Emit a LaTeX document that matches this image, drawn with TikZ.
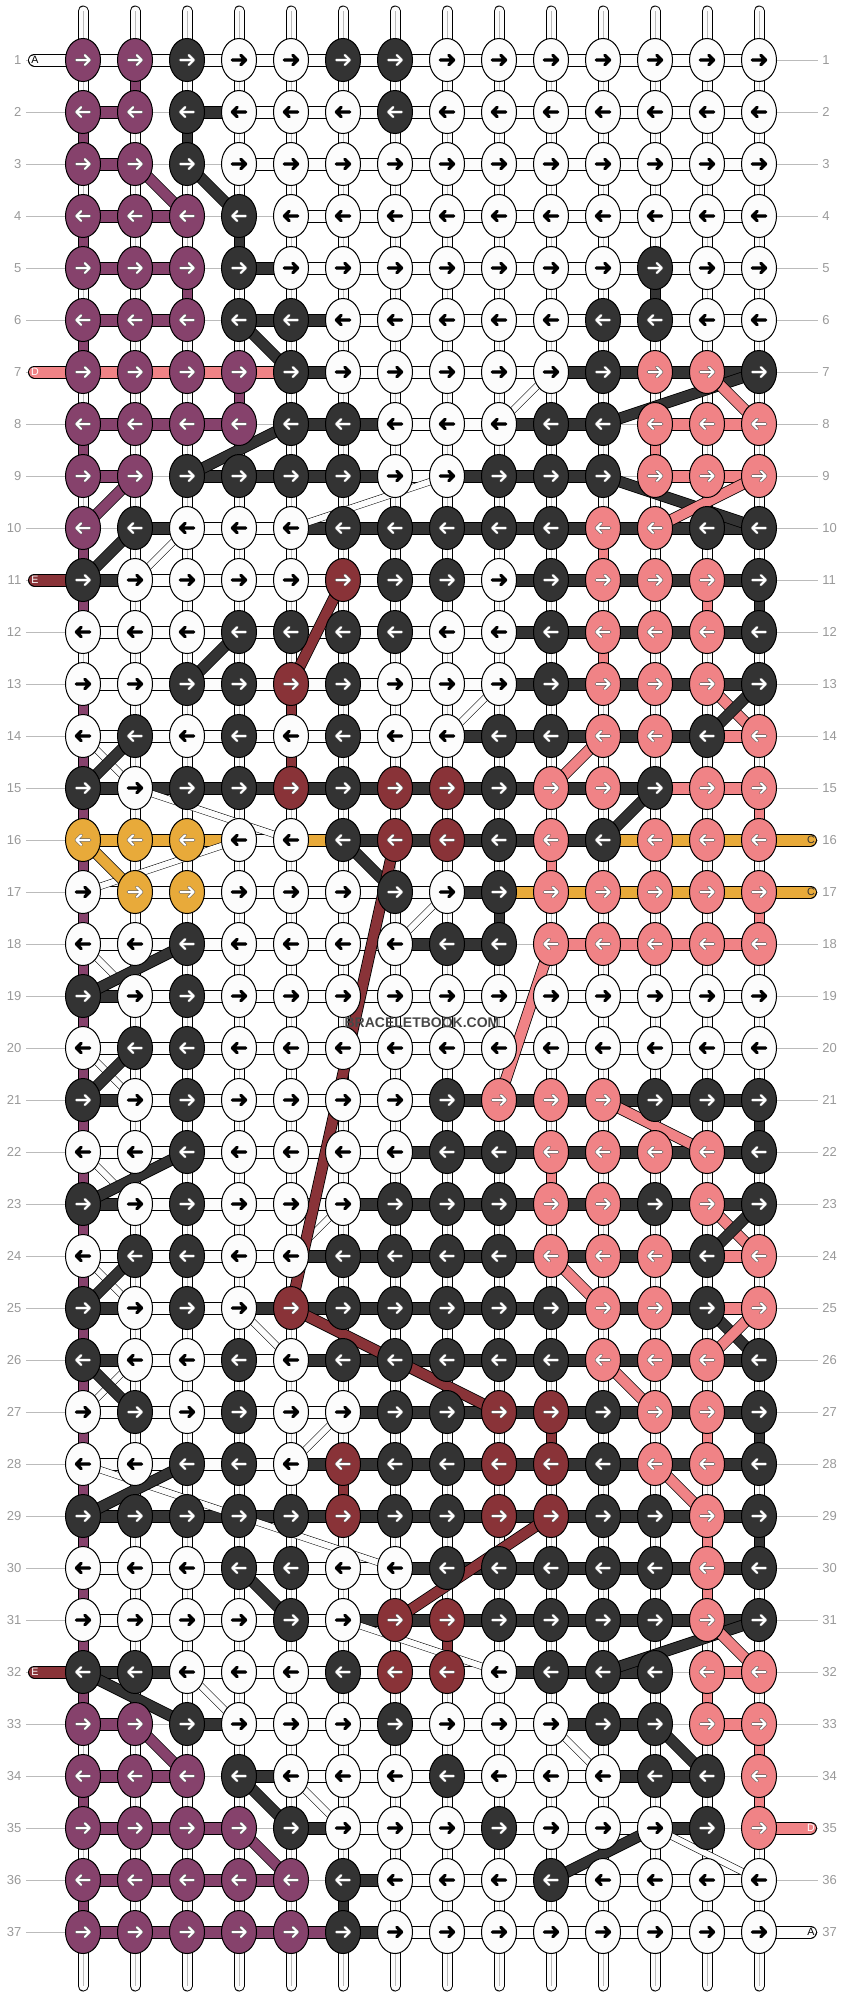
\documentclass[tikz,border=0pt]{standalone}
\usepackage{fontspec}
\setmainfont{Liberation Sans}
\usetikzlibrary{shapes.geometric,backgrounds}

\definecolor{colp}{HTML}{86426C}
\definecolor{colk}{HTML}{333333}
\definecolor{colw}{HTML}{FCFCFC}
\definecolor{colr}{HTML}{F08386}
\definecolor{cold}{HTML}{893338}
\definecolor{colo}{HTML}{E8AA3A}
\definecolor{numgray}{HTML}{999999}
\definecolor{linegray}{HTML}{BBBBBB}
\colorlet{acw}{black}\colorlet{olw}{black}
\colorlet{acp}{white}\colorlet{olp}{black!60}
\colorlet{ack}{white}\colorlet{olk}{black!60}
\colorlet{acr}{white}\colorlet{olr}{black!65}
\colorlet{acd}{white}\colorlet{old}{black!60}
\colorlet{aco}{white}\colorlet{olo}{black!60}

\tikzset{
	knot/.style={
			ellipse, draw=black, line width=0.75pt, fill=col#1,
			minimum width=26.25pt, minimum height=32.25pt, inner sep=0pt,
			/utils/exec={\edef\kcode{#1}},
		},
	arrowdir/.style={
			path picture={
					\coordinate (pc) at (path picture bounding box.center);
					\foreach \lw/\cl in {2.4pt/ol\kcode, 1.5pt/ac\kcode} {
							\ifnum#1>0
								\draw[\cl, line width=\lw, line cap=round, line join=round]
								([xshift=-5pt]pc) -- ([xshift=5pt]pc)
								([shift={(1.4pt,3.6pt)}]pc) -- ([xshift=5pt]pc) -- ([shift={(1.4pt,-3.6pt)}]pc);
							\else
								\draw[\cl, line width=\lw, line cap=round, line join=round]
								([xshift=5pt]pc) -- ([xshift=-5pt]pc)
								([shift={(-1.4pt,3.6pt)}]pc) -- ([xshift=-5pt]pc) -- ([shift={(-1.4pt,-3.6pt)}]pc);
							\fi
						}
				},
		},
	guide/.style={linegray, line width=0.75pt},
	vbar/.style={draw=black, line width=0.75pt, double=colw, double distance=6.75pt},
	vmid/.style={linegray, line width=0.5pt},
	cbar/.style={draw=black, line width=0.75pt, double=col#1, double distance=6.75pt},
	hbar/.style={draw=black, line width=0.75pt, double=col#1, double distance=8.25pt},
	lbar/.style={hbar=#1, line cap=round},
	dstr/.style={draw=black, line width=0.6pt, double=col#1, double distance=7.5pt},
	wdiag/.style={draw=black, line width=0.4pt, double=colw, double distance=4.5pt},
	rownum/.style={text=numgray, font=\fontsize{9.75}{10}\selectfont, inner sep=0pt},
	labtxt/.style={font=\fontsize{8}{9}\selectfont, inner sep=0pt},
}

\begin{document}
\begin{tikzpicture}[x=0.75pt, y=-0.75pt]
	\useasboundingbox (0,0) rectangle (844,1996);
	% knots
	\foreach \r/\knots in {
			1/{p,p,k,w,w,k,k,w,w,w,w,w,w,w},
			2/{p,p,k,w,w,w,k,w,w,w,w,w,w,w},
			3/{p,p,k,w,w,w,w,w,w,w,w,w,w,w},
			4/{p,p,p,k,w,w,w,w,w,w,w,w,w,w},
			5/{p,p,p,k,w,w,w,w,w,w,w,k,w,w},
			6/{p,p,p,k,k,w,w,w,w,w,k,k,w,w},
			7/{p,p,p,p,k,w,w,w,w,w,k,r,r,k},
			8/{p,p,p,p,k,k,w,w,w,k,k,r,r,r},
			9/{p,p,k,k,k,k,w,w,k,k,k,r,r,r},
			10/{p,k,w,w,w,k,k,k,k,k,r,r,k,k},
			11/{k,w,w,w,w,d,k,k,w,k,r,r,r,k},
			12/{w,w,w,k,k,k,k,w,w,k,r,r,r,k},
			13/{w,w,k,k,d,k,w,w,w,k,r,r,r,k},
			14/{w,k,w,k,w,k,w,w,k,k,r,r,k,r},
			15/{k,w,k,k,d,k,d,d,k,r,r,k,r,r},
			16/{o,o,o,w,w,k,d,d,k,r,k,r,r,r},
			17/{w,o,o,w,w,w,k,w,k,r,r,r,r,r},
			18/{w,w,k,w,w,w,w,k,k,r,r,r,r,r},
			19/{k,w,k,w,w,w,w,w,w,w,w,w,w,w},
			20/{w,k,k,w,w,w,w,w,w,w,w,w,w,w},
			21/{k,w,k,w,w,w,w,k,r,r,r,k,k,k},
			22/{w,w,k,w,w,w,w,k,k,r,r,r,r,k},
			23/{k,w,k,w,w,w,k,k,k,r,r,k,r,k},
			24/{w,k,k,w,w,k,k,k,k,r,r,r,k,r},
			25/{k,w,k,w,d,k,k,k,k,k,r,r,k,r},
			26/{k,w,w,k,w,k,k,k,k,k,r,r,r,k},
			27/{w,k,w,k,w,w,k,k,d,d,k,r,r,k},
			28/{w,w,k,k,w,d,k,k,d,d,k,r,r,k},
			29/{k,k,k,k,k,d,k,k,d,d,k,k,r,k},
			30/{w,w,w,k,k,w,w,k,k,k,k,k,r,k},
			31/{w,w,w,w,k,w,d,d,k,k,k,k,r,k},
			32/{k,k,w,w,w,k,d,d,w,k,k,k,r,r},
			33/{p,p,k,w,w,w,k,w,w,w,k,k,r,r},
			34/{p,p,p,k,w,w,w,k,w,w,w,k,k,r},
			35/{p,p,p,p,k,w,w,w,k,w,w,w,k,r},
			36/{p,p,p,p,p,k,w,w,w,k,w,w,w,w},
			37/{p,p,p,p,p,k,w,w,w,w,w,w,w,w}} {
			\pgfmathtruncatemacro\sg{1-2*mod(\r+1,2)}
			\pgfmathsetmacro\yy{60+52*(\r-1)}
			\coordinate (gl-\r) at (26,\yy);
			\coordinate (gr-\r) at (818,\yy);
			\node[rownum, anchor=east] (nl-\r) at (21.5,\yy) {\r};
			\node[rownum, anchor=west] (nr-\r) at (822,\yy) {\r};
			\foreach \kn [count=\i] in \knots
			\node[knot=\kn, arrowdir=\sg] (k-\r-\i) at ({83+52*(\i-1)},\yy) {};
		}
	\foreach \c in {1,...,14} {
			\coordinate (top-\c) at ({83+52*(\c-1)},11);
			\coordinate (bot-\c) at ({83+52*(\c-1)},1986);
		}

	\begin{scope}[on background layer]
		\foreach \r in {1,...,37} \draw[guide] (gl-\r) -- (gr-\r);
		% vertical strings
		\foreach \c in {1,...,14} {
				\draw[vbar, line cap=round] (top-\c) -- (k-1-\c.center);
				\draw[vbar, line cap=round] (k-37-\c.center) -- (bot-\c);
				\draw[vmid] (top-\c) -- (k-1-\c.center) (k-37-\c.center) -- (bot-\c);
				\foreach \r in {1,...,36} {
						\pgfmathtruncatemacro\rr{\r+1}
						\draw[vbar] (k-\r-\c.center) -- (k-\rr-\c.center);
						\draw[vmid] (k-\r-\c.center) -- (k-\rr-\c.center);
					}
			}
		\foreach \r in {13,...,32} \draw[cbar=p] (k-\r-1.center) -- (k-\the\numexpr\r+1\relax-1.center);
		\foreach \c/\r/\cl in {1/2/p, 1/4/p, 1/6/p, 1/8/p, 1/10/p, 1/11/p, 1/34/p, 1/36/p,
				2/1/p, 3/2/k, 3/5/p, 4/4/k, 4/7/p, 5/13/d, 5/14/d, 6/28/d, 6/36/k,
				8/31/d, 9/17/k, 10/16/r, 10/22/r, 10/27/d, 11/10/r, 11/12/r, 12/5/k, 12/8/r,
				13/11/r, 13/27/r, 13/29/r, 13/30/r, 13/32/r,
				14/11/k, 14/15/r, 14/17/r, 14/21/k, 14/27/k, 14/29/k, 14/33/r, 14/34/r} {
				\pgfmathtruncatemacro\rr{\r+1}
				\draw[cbar=\cl] (k-\r-\c.center) -- (k-\rr-\c.center);
			}
		% row strings
		\foreach \r/\bars in {
				1/{w,w,w,w,w,w,w,w,w,w,w,w,w},
				2/{p,n,k,w,w,w,w,w,w,w,w,w,w},
				3/{p,n,n,w,w,w,w,w,w,w,w,w,w},
				4/{p,p,n,n,w,w,w,w,w,w,w,w,w},
				5/{p,p,n,k,w,w,w,w,w,w,w,w,w},
				6/{p,p,n,k,k,w,w,w,w,w,w,w,w},
				7/{r,r,r,r,k,w,w,w,w,k,k,k,k},
				8/{p,p,p,n,k,k,w,w,k,k,n,r,r},
				9/{p,n,k,k,k,k,w,k,k,k,n,r,r},
				10/{n,k,w,w,k,k,k,k,k,k,k,k,k},
				11/{k,w,w,w,w,w,w,w,k,k,k,k,k},
				12/{w,w,w,w,w,w,w,w,k,k,k,k,k},
				13/{w,w,w,w,w,w,w,w,k,k,k,k,k},
				14/{w,w,w,w,w,w,w,k,k,k,k,k,r},
				15/{k,k,k,k,k,k,k,k,k,k,k,r,r},
				16/{o,o,o,w,o,k,k,k,k,k,o,o,o},
				17/{w,w,w,w,w,w,w,k,o,o,o,o,o},
				18/{w,w,w,w,w,w,k,k,n,r,r,r,r},
				19/{k,w,w,w,w,w,w,w,w,w,w,w,w},
				20/{w,w,w,w,w,w,w,w,w,w,w,w,w},
				21/{k,w,w,w,w,w,w,k,k,k,k,k,k},
				22/{w,w,w,w,w,w,k,k,k,k,k,k,k},
				23/{k,w,w,w,w,k,k,k,k,k,k,k,k},
				24/{w,w,w,w,k,k,k,k,k,k,k,k,r},
				25/{k,w,w,k,k,k,k,k,k,k,k,k,r},
				26/{k,w,w,w,k,k,k,k,k,k,k,k,k},
				27/{w,w,w,w,w,k,k,k,k,k,k,k,k},
				28/{w,w,w,w,k,k,k,k,k,k,k,k,k},
				29/{k,k,k,k,k,k,k,k,k,k,k,k,k},
				30/{w,w,w,w,w,w,k,k,k,k,k,k,k},
				31/{w,w,w,w,w,k,k,k,k,k,k,k,k},
				32/{k,k,w,w,w,w,w,w,k,k,k,n,r},
				33/{p,n,k,w,w,w,w,w,w,k,k,n,r},
				34/{p,p,n,k,w,w,w,w,w,w,k,k,n},
				35/{p,p,p,n,k,w,w,w,w,w,w,k,n},
				36/{p,p,p,p,n,k,w,w,w,w,w,w,w},
				37/{p,p,p,p,p,k,w,w,w,w,w,w,w}} {
				\foreach \hb [count=\i] in \bars {
						\pgfmathtruncatemacro\j{\i+1}
						\if\hb n\else\draw[hbar=\hb] (k-\r-\i.center) -- (k-\r-\j.center);\fi
					}
			}
		% strings changing place
		\foreach \ra/\ca/\rb/\cb in {7/10/8/9, 9/8/10/5, 10/3/11/2, 13/9/14/8, 14/1/15/2, 15/2/16/5,
				17/1/16/4, 17/8/18/7, 18/1/19/2, 20/1/21/2, 22/1/23/2, 23/6/24/5, 24/1/25/2,
				25/4/26/5, 26/2/27/1, 27/6/28/5, 28/1/30/7, 31/6/32/9, 32/3/33/4, 33/10/34/11,
				34/5/35/6, 35/12/36/14}
		\draw[wdiag] (k-\ra-\ca.center) -- (k-\rb-\cb.center);
		\foreach \ra/\ca/\rb/\cb/\cl in {3/2/4/3/p, 3/3/4/4/k, 6/4/7/5/k, 7/14/8/11/k, 7/13/8/14/r,
				8/5/9/3/k, 9/2/10/1/p, 9/11/10/14/k, 9/14/10/12/r, 10/2/11/1/k, 11/6/13/5/d,
				12/4/13/3/k, 13/13/14/14/r, 13/14/14/13/k, 14/2/15/1/k, 14/11/15/10/r,
				15/12/16/11/k, 16/1/17/2/o, 16/6/17/7/k, 16/7/25/5/d, 18/10/21/9/r, 18/3/19/1/k,
				20/2/21/1/k, 21/11/22/13/r, 22/3/23/1/k, 23/13/24/14/r, 23/14/24/13/k,
				24/2/25/1/k, 24/10/25/11/r, 25/5/27/9/d, 25/13/26/14/k, 25/14/26/13/r,
				26/1/27/2/k, 26/11/27/12/r, 28/3/29/1/k, 28/12/29/13/r, 29/10/31/7/d,
				30/4/31/5/k, 31/14/32/11/k, 31/13/32/14/r, 32/1/33/3/k, 33/2/34/3/p,
				33/12/34/13/k, 34/4/35/5/k, 35/4/36/5/p, 35/12/36/10/k}
		\draw[dstr=\cl] (k-\ra-\ca.center) -- (k-\rb-\cb.center);
		% loose ends
		\foreach \r/\cl/\tx/\tc in {1/w/A/black, 7/r/D/white, 11/d/E/white, 32/d/E/white} {
				\pgfmathsetmacro\yy{60+52*(\r-1)}
				\coordinate (la-\r) at (34.5,\yy);
				\draw[lbar=\cl] (la-\r) -- (k-\r-1.center);
				\node[labtxt, text=\tc] (lt-\r) at (35,\yy) {\tx};
			}
		\foreach \r/\cl/\tx/\tc in {16/o/C/colk, 17/o/C/colk, 35/r/D/white, 37/w/A/black} {
				\pgfmathsetmacro\yy{60+52*(\r-1)}
				\coordinate (ra-\r) at (810.5,\yy);
				\draw[lbar=\cl] (k-\r-14.center) -- (ra-\r);
				\node[labtxt, text=\tc] (rt-\r) at (811,\yy) {\tx};
			}
	\end{scope}

	\node[font=\fontsize{10.5}{12}\selectfont\bfseries, text=black!72, inner sep=0pt] (wmark) at (422,1023) {BRACELETBOOK.COM};
\end{tikzpicture}
\end{document}
